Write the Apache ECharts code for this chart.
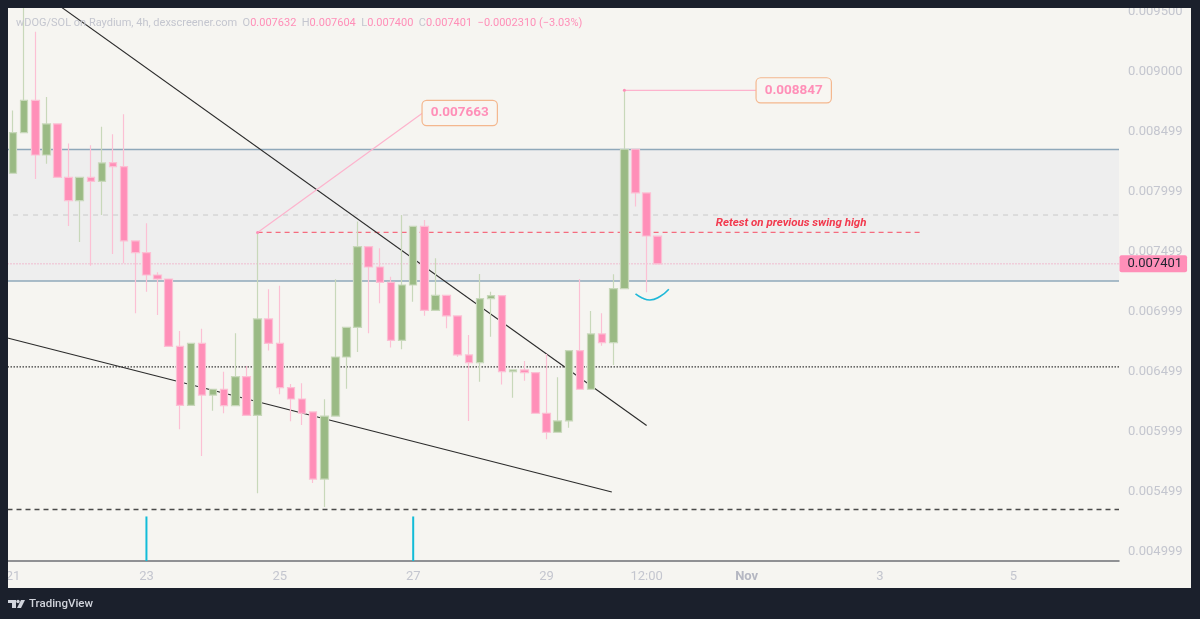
<!DOCTYPE html>
<html>
<head>
<meta charset="utf-8">
<style>
  html, body { margin: 0; padding: 0; background: #1b202c; }
  #chart { width: 1200px; height: 619px; }
</style>
</head>
<body>
<div id="chart"></div>
<script src="https://cdn.jsdelivr.net/npm/echarts@6/dist/echarts.min.js"></script>
<script>
// 4h candles
const opens = [0.008156, 0.008494, 0.008764, 0.008308, 0.008567, 0.008122, 0.007928, 0.008122, 0.008089, 0.008244,
  0.008211, 0.007592, 0.007494, 0.007308, 0.007275, 0.006714, 0.006222, 0.006739, 0.006308, 0.006356,
  0.006219, 0.006461, 0.006139, 0.006942, 0.006739, 0.006369, 0.006275, 0.006167, 0.005608, 0.006133,
  0.006625, 0.006872, 0.007544, 0.007375, 0.007247, 0.006764, 0.007225, 0.007714, 0.007014, 0.007139,
  0.006967, 0.006642, 0.006578, 0.007111, 0.007136, 0.006503, 0.006517, 0.006494, 0.006156, 0.005998,
  0.006092, 0.006678, 0.006356, 0.006817, 0.006744, 0.007194, 0.008356, 0.007992, 0.007632]
const closes = [0.008494, 0.008764, 0.008308, 0.008567, 0.008122, 0.007928, 0.008122, 0.008089, 0.008242, 0.008211,
  0.007592, 0.007494, 0.007308, 0.007275, 0.006714, 0.006222, 0.006739, 0.006308, 0.006356, 0.006219,
  0.006461, 0.006139, 0.006942, 0.006739, 0.006369, 0.006275, 0.006156, 0.005608, 0.006133, 0.006625,
  0.006872, 0.007544, 0.007375, 0.007247, 0.006764, 0.007225, 0.007714, 0.007014, 0.007139, 0.006967,
  0.006642, 0.006578, 0.007111, 0.007136, 0.006503, 0.006517, 0.006494, 0.006156, 0.005998, 0.006092,
  0.006678, 0.006356, 0.006817, 0.006744, 0.007194, 0.008356, 0.007992, 0.007633, 0.007401]
const lows = [0.008156, 0.008494, 0.008108, 0.008236, 0.008122, 0.007717, 0.007583, 0.007386, 0.007808, 0.007483,
  0.007406, 0.006989, 0.007169, 0.006975, 0.006714, 0.006022, 0.006222, 0.005800, 0.006178, 0.006156,
  0.006219, 0.006139, 0.005489, 0.006678, 0.006314, 0.006089, 0.006058, 0.005575, 0.005375, 0.006133,
  0.006361, 0.006667, 0.006822, 0.007072, 0.006703, 0.006689, 0.007086, 0.006969, 0.007014, 0.006864,
  0.006628, 0.006092, 0.006419, 0.006794, 0.006396, 0.006286, 0.006428, 0.006156, 0.005939, 0.005998,
  0.006036, 0.006356, 0.006356, 0.006719, 0.006558, 0.007194, 0.007878, 0.007164, 0.007400]
const highs = [0.008678, 0.009560, 0.009336, 0.008792, 0.008567, 0.008403, 0.008122, 0.008389, 0.008544, 0.008481,
  0.008648, 0.007592, 0.007739, 0.007331, 0.007275, 0.006842, 0.006739, 0.006861, 0.006356, 0.006503,
  0.006822, 0.006550, 0.007663, 0.007189, 0.007219, 0.006400, 0.006406, 0.006167, 0.006272, 0.007272,
  0.006872, 0.007753, 0.007544, 0.007531, 0.007294, 0.007808, 0.007714, 0.007767, 0.007447, 0.007139,
  0.006967, 0.006808, 0.007317, 0.007169, 0.007136, 0.006517, 0.006592, 0.006494, 0.006650, 0.006456,
  0.006678, 0.007275, 0.007008, 0.006989, 0.007314, 0.008847, 0.008356, 0.007992, 0.007632]

const barCount = 100
const tickLabels = { 0: '21', 12: '23', 24: '25', 36: '27', 48: '29', 57: '12:00', 66: 'Nov', 78: '3', 90: '5' }
const priceTicks = [0.0095, 0.009, 0.008499, 0.007999, 0.007499, 0.006999, 0.006499, 0.005999, 0.005499, 0.004999]

// drawn levels
const zoneTop = 0.008354
const zoneBottom = 0.007258
const upperLevel = 0.007808
const swingHigh = 0.007663
const lastPrice = 0.007401
const spikeHigh = 0.008847
const midLevel = 0.006542
const supportLevel = 0.005354

// [bar index, price]
const upperTrend = [[4, 0.009563], [57, 0.006054]]
const lowerTrend = [[-0.5, 0.006783], [53.87, 0.0055]]
const retestArc = [[56, 0.00715], [56.6, 0.007117], [57.3, 0.0071], [58.2, 0.007129], [59, 0.007189]]
const swingLeader = [[22, swingHigh], [36.85, 0.008658]]
const spikeLeader = [[55, spikeHigh], [66.9, spikeHigh]]
const cyanBars = [12, 36]
const cyanTop = 0.005296

const PINK = '#ff8fb8'
const GREEN = '#9aba84'
const GREY = '#c4c6cf'
const FONT = 'Roboto'

const categories = []
for (let i = 0; i < barCount; i++) categories.push('bar ' + i)

const candles = opens.map((o, i) => [o, closes[i], lows[i], highs[i]])

function overlay(data, color, width, type, z) {
  return {
    type: 'line',
    xAxisIndex: 1,
    data: data,
    symbol: 'none',
    silent: true,
    z: z || 3,
    lineStyle: { color: color, width: width, type: type || 'solid' }
  }
}

function level(v, color, width, type, from, to) {
  return overlay([[from === undefined ? -0.5 : from, v], [to === undefined ? 99.5 : to, v]], color, width, type)
}

// text hung on a point with no visible symbol
function tag(point, label) {
  return {
    type: 'scatter',
    xAxisIndex: 1,
    symbolSize: 0,
    silent: true,
    z: 8,
    itemStyle: { opacity: 1 },
    data: [point],
    label: Object.assign({ show: true, opacity: 1, formatter: '', fontFamily: FONT }, label)
  }
}

const boxLabel = {
  position: 'right',
  distance: 0,
  color: PINK,
  fontWeight: 'bold',
  fontSize: 13.5,
  backgroundColor: '#f8f6f2',
  borderColor: '#f4b78e',
  borderWidth: 1.2,
  borderRadius: 4,
  padding: [5, 8, 5, 8]
}

const series = [
  {
    type: 'line',
    xAxisIndex: 1,
    data: [],
    z: 1,
    silent: true,
    markArea: {
      silent: true,
      itemStyle: { color: '#eeeeee' },
      data: [[{ yAxis: zoneTop }, { yAxis: zoneBottom }]]
    }
  },
  level(zoneTop, '#8fa8ba', 1.5),
  level(zoneBottom, '#8fa8ba', 1.5),
  level(upperLevel, '#cfcfcf', 1.2, [5, 5], 0),
  level(swingHigh, '#f56b7e', 1.2, [5, 4], 22, 81.6),
  level(midLevel, '#3a3a3a', 1.2, [1.5, 1.5]),
  level(supportLevel, '#4a4a4a', 1.3, [5, 4]),
  level(lastPrice, '#f28cb1', 1, [1, 2]),
  overlay(upperTrend, '#2b2b2b', 1.1),
  overlay(lowerTrend, '#2b2b2b', 1.1),
  Object.assign(overlay(retestArc, '#1fb8d8', 1.6), { smooth: true, z: 6 }),
  overlay(swingLeader, '#fdb3cd', 1.2, 'solid', 6),
  overlay(spikeLeader, '#fdb3cd', 1.2, 'solid', 6),
  tag(swingLeader[1], Object.assign({}, boxLabel, { formatter: swingHigh.toFixed(6) })),
  tag(spikeLeader[1], Object.assign({}, boxLabel, { formatter: spikeHigh.toFixed(6) })),
  tag([99.5, lastPrice], {
    position: 'right',
    distance: 0.5,
    formatter: lastPrice.toFixed(6),
    color: '#1f2430',
    fontSize: 13,
    backgroundColor: PINK,
    borderRadius: 2,
    padding: [2, 5, 2, 8]
  }),
  tag([70, 0.00774], {
    position: 'inside',
    formatter: 'Retest on previous swing high',
    color: '#f23a4e',
    fontSize: 11.5,
    fontWeight: 'bold',
    fontStyle: 'italic'
  }),
  {
    type: 'candlestick',
    data: candles,
    barWidth: 8,
    z: 5,
    silent: true,
    itemStyle: {
      color: GREEN,
      color0: PINK,
      borderColor: '#c8d8ba',
      borderColor0: '#fcc0d4',
      borderWidth: 1.2
    }
  },
  {
    type: 'scatter',
    xAxisIndex: 1,
    symbol: 'circle',
    symbolSize: 3,
    silent: true,
    z: 7,
    itemStyle: { color: PINK, opacity: 1 },
    data: [[22, swingHigh], [55, spikeHigh]]
  }
]

cyanBars.forEach(i => {
  series.push(overlay([[i, cyanTop], [i, 0.004925]], '#12bcd8', 2, 'solid', 6))
})

const chart = echarts.init(document.getElementById('chart'))
chart.setOption({
  animation: false,
  backgroundColor: '#1b202c',
  textStyle: { fontFamily: FONT },
  title: {
    left: 16,
    top: 18,
    padding: 0,
    z: 8,
    text: '{g|wDOG/SOL on Raydium, 4h, dexscreener.com  O}{p|0.007632}{g|  H}{p|0.007604}{g|  L}{p|0.007400}{g|  C}{p|0.007401}{p|  \u22120.0002310 (\u22123.03%)}',
    textStyle: {
      fontSize: 11,
      fontWeight: 'normal',
      rich: {
        g: { color: GREY, fontFamily: FONT, fontSize: 11, fontWeight: 'normal' },
        p: { color: PINK, fontFamily: FONT, fontSize: 11, fontWeight: 'normal' }
      }
    }
  },
  grid: { left: 7.5, top: 8, width: 1111.5, height: 553 },
  xAxis: [
    {
      type: 'category',
      data: categories,
      axisLine: { lineStyle: { color: '#6f7075', width: 1.5 } },
      axisTick: { show: false },
      splitLine: { show: false },
      axisLabel: {
        margin: 9,
        interval: i => tickLabels[i] !== undefined,
        hideOverlap: false,
        formatter: (v, i) => tickLabels[i] === 'Nov' ? '{b|Nov}' : tickLabels[i],
        color: GREY,
        fontFamily: FONT,
        fontSize: 13,
        rich: { b: { color: '#b5b7c2', fontWeight: 'bold', fontFamily: FONT, fontSize: 13 } }
      }
    },
    { type: 'value', min: -0.5, max: 99.5, show: false, splitLine: { show: false } }
  ],
  yAxis: {
    type: 'value',
    position: 'right',
    min: 0.004925,
    max: 0.009533,
    axisLine: { show: false },
    axisTick: { show: false },
    splitLine: { show: false },
    axisLabel: {
      customValues: priceTicks,
      margin: 9,
      color: GREY,
      fontFamily: FONT,
      fontSize: 13,
      formatter: v => v.toFixed(6)
    }
  },
  graphic: [
    { type: 'rect', z: -10, silent: true, shape: { x: 8, y: 8, width: 1183, height: 580 }, style: { fill: '#f6f5f1' } },
    { type: 'rect', z: 100, silent: true, shape: { x: 0, y: 0, width: 1200, height: 8 }, style: { fill: '#1b202c' } },
    { type: 'rect', z: 100, silent: true, shape: { x: 0, y: 0, width: 8, height: 619 }, style: { fill: '#1b202c' } },
    // TradingView mark
    { type: 'polygon', z: 100, silent: true, shape: { points: [[8, 600], [16, 600], [16, 608], [12, 608], [12, 603], [8, 603]] }, style: { fill: '#d1d4dc' } },
    { type: 'circle', z: 100, silent: true, shape: { cx: 18, cy: 601.5, r: 1.7 }, style: { fill: '#d1d4dc' } },
    { type: 'polygon', z: 100, silent: true, shape: { points: [[21, 600], [25, 600], [21, 608], [17, 608]] }, style: { fill: '#d1d4dc' } },
    {
      type: 'text',
      z: 100,
      silent: true,
      x: 29,
      y: 598,
      style: { text: 'TradingView', fill: '#d1d4dc', font: '500 11.5px Roboto' }
    }
  ],
  series: series
})
</script>
</body>
</html>
